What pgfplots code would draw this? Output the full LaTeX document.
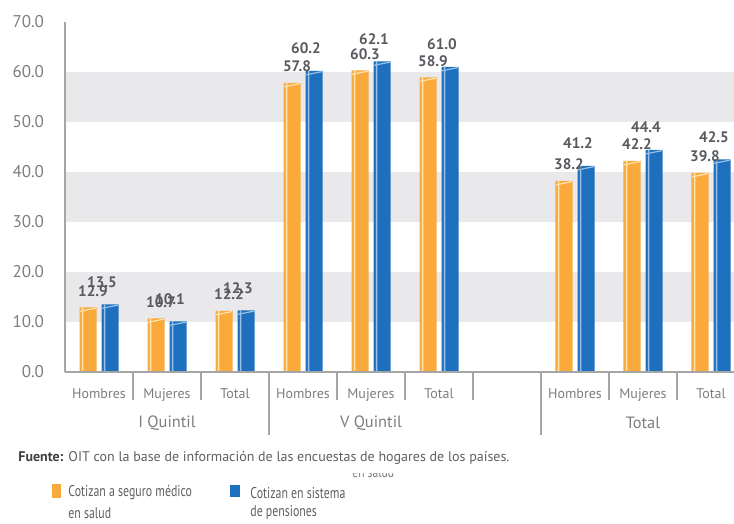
\documentclass[border=0pt]{standalone}
\usepackage{fontspec}
\setmainfont{PT Sans}
\newfontfamily\condfont{PT Sans}[FakeStretch=0.76]
\usepackage{pgfplots}
\pgfplotsset{compat=1.18}
\definecolor{cOr}{RGB}{249,170,58}
\definecolor{cBl}{RGB}{30,112,190}
\definecolor{cOrL}{RGB}{255,228,175}
\definecolor{cBlL}{RGB}{150,192,232}
\definecolor{band}{RGB}{233,233,235}
\definecolor{axgray}{RGB}{165,165,165}
\definecolor{txtgray}{RGB}{125,125,125}
\definecolor{valgray}{RGB}{88,90,95}
\definecolor{fgray}{RGB}{95,95,95}

\pgfdeclareplotmark{capO}{%
  \pgfpathmoveto{\pgfpoint{-9.4pt}{-1.9pt}}%
  \pgfpathlineto{\pgfpoint{-1.5pt}{-0.3pt}}%
  \pgfusepathqstroke}
\pgfdeclareplotmark{capB}{%
  \pgfpathmoveto{\pgfpoint{1.6pt}{-1.9pt}}%
  \pgfpathlineto{\pgfpoint{9.5pt}{-0.3pt}}%
  \pgfusepathqstroke}

\pgfplotstableread{
x  salud pens
0  12.9  13.5
1  10.7  10.1
2  12.2  12.3
3  57.8  60.2
4  60.3  62.1
5  58.9  61.0
7  38.2  41.2
8  42.2  44.4
9  39.8  42.5
}\datatab

\begin{document}
\begin{tikzpicture}[x=0.5pt,y=0.5pt]
\coordinate (O) at (65,152);
\begin{axis}[
  at={(O)}, anchor=south west,
  scale only axis, width=340pt, height=175pt,
  xmin=-0.5, xmax=9.5, ymin=0, ymax=70,
  axis x line=bottom, axis y line=left,
  axis line style={-, draw=axgray, line width=0.7pt},
  axis on top,
  ytick={0,10,...,70},
  major tick length=0pt,
  /pgf/number format/assume math mode=true,
  yticklabel={\pgfmathprintnumber[fixed,fixed zerofill,precision=1]{\tick}},
  yticklabel style={font=\fontsize{8.5}{10}\selectfont, text=txtgray, anchor=east, xshift=-7pt},
  xtick={0,...,9},
  xticklabels={Hombres,Mujeres,Total,Hombres,Mujeres,Total,{},Hombres,Mujeres,Total},
  xticklabel style={font=\fontsize{7}{8}\selectfont, text=txtgray, anchor=center, text height=1.5ex, text depth=0.3ex, yshift=-10.5pt},
  ybar, bar width=8.5pt,
  clip=false,
]
\fill[band] (axis cs:-0.5,10) rectangle (axis cs:9.5,20);
\fill[band] (axis cs:-0.5,30) rectangle (axis cs:9.5,40);
\fill[band] (axis cs:-0.5,50) rectangle (axis cs:9.5,60);
\addplot[ybar, bar width=8.5pt, bar shift=-5.5pt, fill=cOr, draw=none,
  nodes near coords={\pgfmathprintnumber[fixed,fixed zerofill,precision=1]{\pgfplotspointmeta}},
  every node near coord/.style={anchor=center, yshift=8.3pt, xshift=-3pt, text=valgray, font=\fontsize{7.6}{9}\selectfont\bfseries}]
  table[x=x, y=salud] {\datatab};
\addplot[ybar, bar width=8.5pt, bar shift=5.5pt, fill=cBl, draw=none,
  nodes near coords={\pgfmathprintnumber[fixed,fixed zerofill,precision=1]{\pgfplotspointmeta}},
  every node near coord/.style={anchor=center, yshift=11.2pt, xshift=1.5pt, text=valgray, font=\fontsize{7.6}{9}\selectfont\bfseries}]
  table[x=x, y=pens] {\datatab};
\addplot[ybar, bar width=0.7pt, bar shift=-8.2pt, fill=cOrL, draw=none] table[x=x, y=salud] {\datatab};
\addplot[ybar, bar width=0.7pt, bar shift=2.8pt, fill=cBlL, draw=none] table[x=x, y=pens] {\datatab};
\addplot[only marks, mark=capO, mark options={draw=cOrL, line width=0.6pt}] table[x=x, y=salud] {\datatab};
\addplot[only marks, mark=capB, mark options={draw=cBlL, line width=0.6pt}] table[x=x, y=pens] {\datatab};
\end{axis}
% category separators
\foreach \s in {133,201,337,405,473,609,677} \draw[axgray, line width=0.7pt] (\s,152) -- (\s,124);
\foreach \s in {269,541} \draw[axgray, line width=0.7pt] (\s,152) -- (\s,89);
% group labels
\node[text=txtgray, font=\fontsize{8.2}{10}\selectfont] at (167,101) {I Quintil};
\node[text=txtgray, font=\fontsize{8.2}{10}\selectfont] at (371,101) {V Quintil};
\node[text=txtgray, font=\fontsize{8.2}{10}\selectfont] at (643,101) {Total};
% source
\node[anchor=west, inner sep=0pt, font=\fontsize{7}{8}\selectfont, text=fgray] at (18,66) {\textcolor{black!75}{\textbf{Fuente:}} OIT con la base de información de las encuestas de hogares de los países.};
% clipped fragment
\begin{scope}
\clip (340,42) rectangle (430,50);
\node[anchor=west, inner sep=0pt, text=txtgray, font=\condfont\fontsize{7.6}{9}\selectfont] at (352,52) {en salud};
\end{scope}
% legend
\fill[cOr] (52,26) rectangle (61,40);
\fill[cBl] (230,27) rectangle (240,39);
\node[anchor=west, inner sep=0pt, text=fgray, font=\condfont\fontsize{7.8}{9}\selectfont] at (68,31) {Cotizan a seguro médico};
\node[anchor=west, inner sep=0pt, text=fgray, font=\condfont\fontsize{7.8}{9}\selectfont] at (68,11) {en salud};
\node[anchor=west, inner sep=0pt, text=fgray, font=\condfont\fontsize{7.8}{9}\selectfont] at (250,31) {Cotizan en sistema};
\node[anchor=west, inner sep=0pt, text=fgray, font=\condfont\fontsize{7.8}{9}\selectfont] at (250,11) {de pensiones};
\pgfresetboundingbox
\useasboundingbox (0,0) rectangle (734,524);
\end{tikzpicture}
\end{document}
